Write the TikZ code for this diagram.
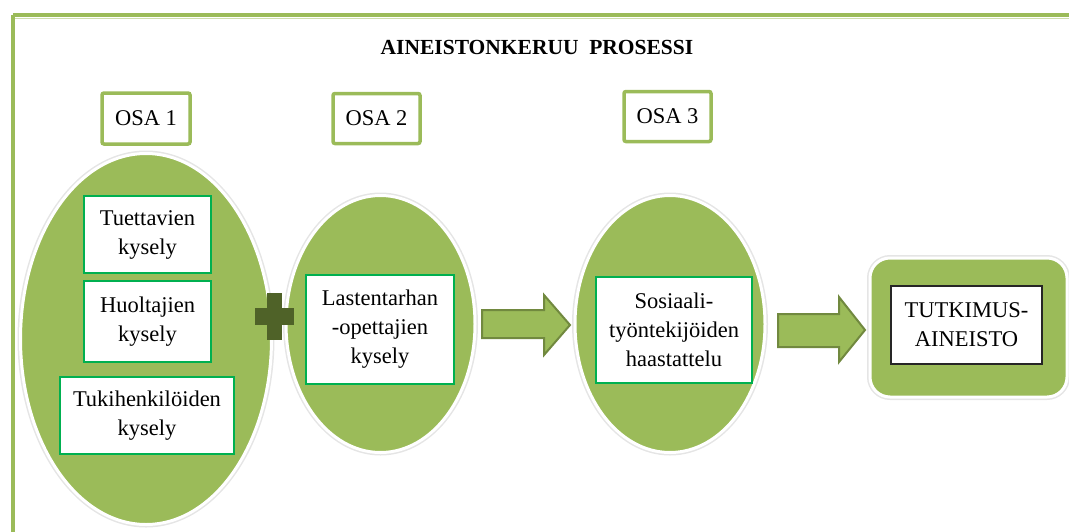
\documentclass[tikz,border=0pt]{standalone}
\usepackage{fontspec}
\setmainfont{Liberation Serif}
\usetikzlibrary{shapes.geometric}
\definecolor{ogreen}{HTML}{9BBB59}
\definecolor{odark}{HTML}{71893F}
\definecolor{pluscol}{HTML}{4F6228}
\definecolor{boxgreen}{HTML}{00B050}
\begin{document}
\begin{tikzpicture}[x=1pt,y=-1pt,
  blob/.style={ellipse, fill=ogreen, draw=white, line width=3pt, inner sep=0pt,
     preaction={draw=black!10, line width=6pt}},
  inbox/.style={draw=boxgreen, line width=1.2pt, fill=white, align=center, inner sep=0pt,
     font=\fontsize{22.5}{29}\selectfont},
  osabox/.style={draw=ogreen, line width=3.5pt, rounded corners=2pt, fill=white, inner sep=0pt,
     font=\fontsize{22.5}{29}\selectfont},
  flowarrow/.style={fill=ogreen, draw=odark, line width=2pt, line join=miter}
]
\useasboundingbox (0,0) rectangle (1069,531);
% frame
\draw[ogreen, line width=4pt] (13,15) -- (1085,15);
\draw[ogreen, line width=4pt] (13,15) -- (13,545);
\draw[ogreen!50, line width=1pt] (15,18.5) -- (1085,18.5);

\node[font=\bfseries\fontsize{21.5}{26}\selectfont] (title) at (537,47) {AINEISTONKERUU\ \ PROSESSI};

% OSA boxes
\node[osabox, minimum width=88pt, minimum height=51pt] (osa1) at (146,118.5) {OSA 1};
\node[osabox, minimum width=87pt, minimum height=50pt] (osa2) at (376.5,118.5) {OSA 2};
\node[osabox, minimum width=87pt, minimum height=50pt] (osa3) at (667.5,116.5) {OSA 3};

% ellipses
\node[blob, minimum width=251pt, minimum height=371pt] (e1) at (146,339) {};
\node[blob, minimum width=189pt, minimum height=257pt] (e2) at (380.5,324) {};
\node[blob, minimum width=190pt, minimum height=257pt] (e3) at (670,324) {};

% inner boxes
\node[inbox, minimum width=127pt, minimum height=77pt] (tuet) at (147.5,234.5) {Tuettavien\\kysely};
\node[inbox, minimum width=127pt, minimum height=81pt] (huol) at (147.5,321.5) {Huoltajien\\kysely};
\node[inbox, minimum width=174pt, minimum height=77pt] (tuki) at (147,415.5) {Tukihenkilöiden\\kysely};
\node[inbox, minimum width=148pt, minimum height=109pt] (last) at (380,329.5) {Lastentarhan\\-opettajien\\kysely};
\node[inbox, minimum width=156pt, minimum height=106pt] (sos) at (674,330) {Sosiaali-\\työntekijöiden\\haastattelu};

% plus
\fill[pluscol] (255,308) rectangle (294,325);
\fill[pluscol] (267,293) rectangle (282,340);

% arrows
\draw[flowarrow] (482,310) -- (544,310) -- (544,295) -- (570,325) -- (544,355) -- (544,338) -- (482,338) -- cycle;
\draw[flowarrow] (778,314) -- (839,314) -- (839,297) -- (865,330) -- (839,362) -- (839,347) -- (778,347) -- cycle;

% result
\node[fill=ogreen, draw=white, line width=3pt, rounded corners=20pt, minimum width=197pt, minimum height=139pt,
  preaction={draw=black!10, line width=6pt, rounded corners=20pt}] (res) at (968.5,327.5) {};
\node[draw=black!85, line width=1.3pt, fill=white, align=center, inner sep=0pt,
  font=\fontsize{22.5}{29}\selectfont, minimum width=151pt, minimum height=78pt] (aineisto) at (966.5,325) {TUTKIMUS-\\AINEISTO};
\end{tikzpicture}
\end{document}
